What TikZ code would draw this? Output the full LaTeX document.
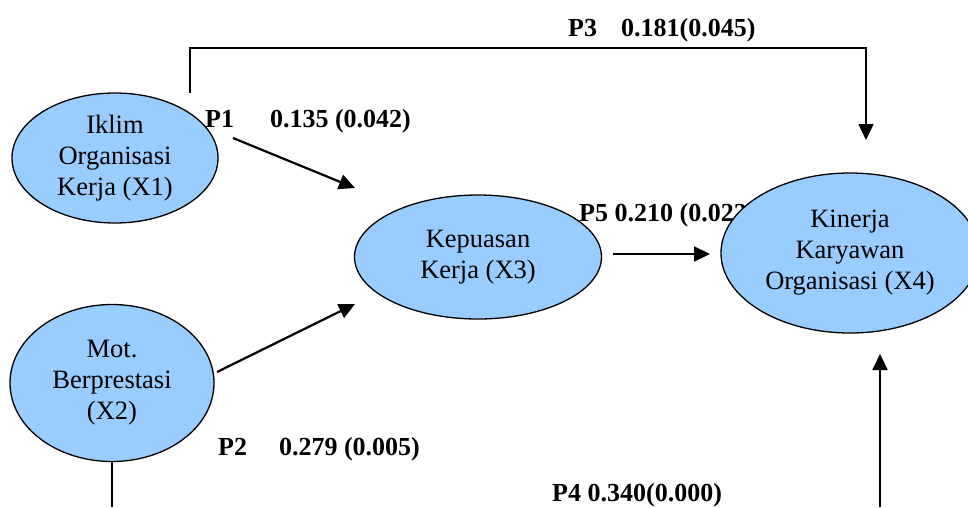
\documentclass[tikz,border=0pt]{standalone}
\usepackage{fontspec}
\setmainfont{Liberation Serif}
\usetikzlibrary{shapes.geometric,arrows.meta}
\definecolor{nodeblue}{HTML}{99CCFF}
\begin{document}
\begin{tikzpicture}[x=1pt,y=-1pt,
  var/.style={ellipse,draw=black,line width=1.3pt,fill=nodeblue,inner sep=0pt,align=center,
    font=\fontsize{26.5}{31}\selectfont},
  conn/.style={line width=2.2pt,-{Triangle[length=16pt,width=15pt]}},
  plain/.style={line width=1.6pt},
  lbl/.style={font=\fontsize{26}{30}\bfseries\selectfont,inner sep=0pt,anchor=west}]
\useasboundingbox (0,0) rectangle (968,507);
\begin{scope}
\clip (0,0) rectangle (968,507);
% labels
\node[lbl] (l1) at (205,121) {P1\hspace{36pt}0.135 (0.042)};
\node[lbl] (l2) at (218,449) {P2\hspace{32pt}0.279 (0.005)};
\node[lbl] (l3) at (568,30) {P3\hspace{24pt}0.181(0.045)};
\node[lbl] (l4) at (552,495) {P4 0.340(0.000)};
\node[lbl] (l5) at (579,215) {P5 0.210 (0.022)};
% nodes
\node[var,minimum width=206pt,minimum height=130pt] (x1) at (115,158) {Iklim\\Organisasi\\Kerja (X1)};
\node[var,minimum width=204pt,minimum height=157pt] (x2) at (112,383) {Mot.\\Berprestasi\\(X2)};
\node[var,minimum width=247pt,minimum height=124pt] (x3) at (478,257) {Kepuasan\\Kerja (X3)};
\node[var,minimum width=258pt,minimum height=160pt] (x4) at (850,253) {Kinerja\\Karyawan\\Organisasi (X4)};
% connector points
\coordinate (p1s) at (233,138);
\coordinate (p1e) at (355,188);
\coordinate (p2s) at (217,372);
\coordinate (p2e) at (355,304);
\coordinate (p5s) at (613,254);
\coordinate (p5e) at (710,254);
\coordinate (p3s) at (190,93);
\coordinate (p3a) at (190,48);
\coordinate (p3b) at (866,48);
\coordinate (p3e) at (866,140);
\coordinate (p4s) at (880,507);
\coordinate (p4e) at (880,354);
\coordinate (x2b) at (x2.south);
\coordinate (x2d) at (x2.south |- 0,507);
\draw[conn] (p1s) -- (p1e);
\draw[conn] (p2s) -- (p2e);
\draw[conn] (p5s) -- (p5e);
\draw[conn,line width=1.6pt] (p3s) -- (p3a) -- (p3b) -- (p3e);
\draw[conn] (p4s) -- (p4e);
\draw[plain] (x2b) -- (x2d);
\end{scope}
\end{tikzpicture}
\end{document}
